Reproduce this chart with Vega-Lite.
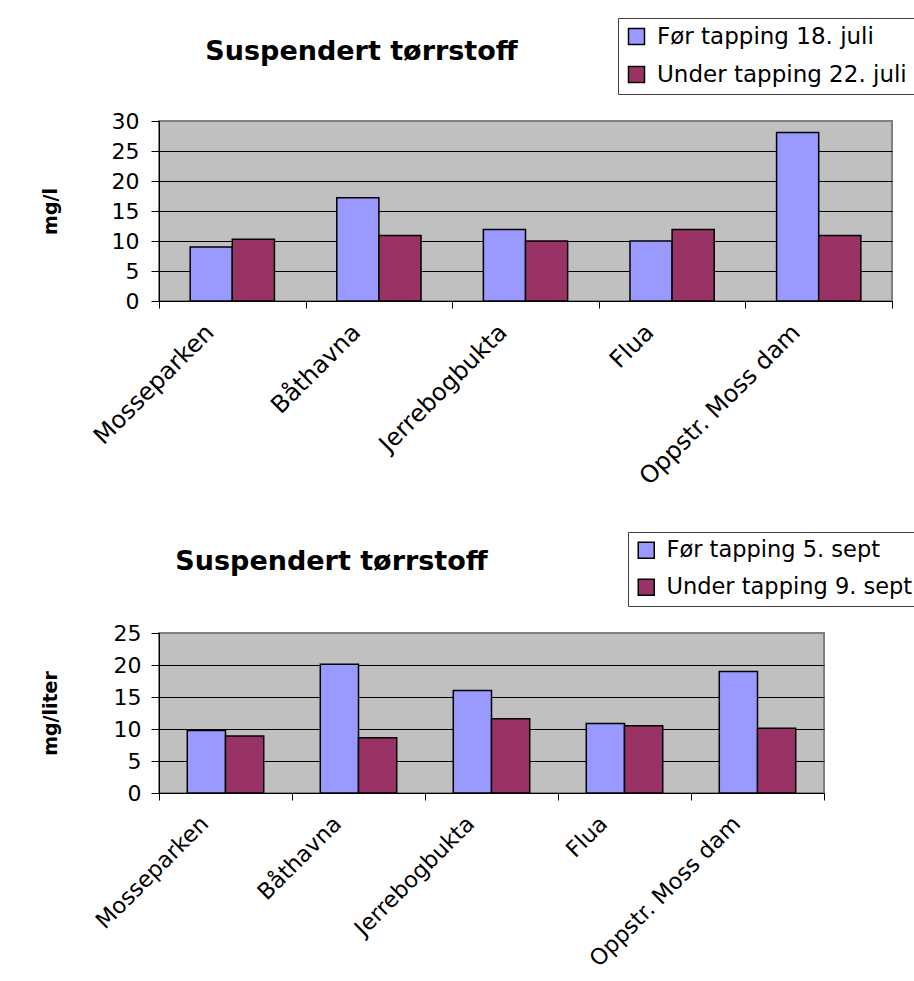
{
  "$schema": "https://vega.github.io/schema/vega-lite/v6.json",
  "background": "white",
  "padding": {"left": 40, "top": 16, "right": 0, "bottom": 0},
  "spacing": 39,
  "config": {
    "font": "DejaVu Sans",
    "view": {"fill": "#C0C0C0", "stroke": "#808080", "strokeWidth": 2},
    "axis": {
      "labelColor": "black",
      "labelFont": "DejaVu Sans",
      "tickColor": "black",
      "tickWidth": 1,
      "tickSize": 8,
      "domainColor": "black",
      "domainWidth": 1,
      "gridWidth": 1,
      "gridOpacity": 1,
      "titleColor": "black",
      "titleFont": "DejaVu Sans",
      "titleFontWeight": "bold",
      "titleFontSize": 19
    },
    "legend": {
      "title": null,
      "labelFont": "DejaVu Sans",
      "labelColor": "black",
      "labelLimit": 500,
      "symbolType": "square",
      "symbolSize": 256,
      "symbolStrokeColor": "black",
      "symbolStrokeWidth": 1.5,
      "labelOffset": 9,
      "rowPadding": 14,
      "padding": 7,
      "strokeColor": "#404040",
      "fillColor": "white",
      "orient": "none"
    },
    "title": {"font": "DejaVu Sans", "fontWeight": "bold", "fontSize": 27, "color": "black"}
  },
  "datasets": {
    "juli": [
      {"site": "Mosseparken", "series": "Før tapping 18. juli", "value": 9.0},
      {"site": "Mosseparken", "series": "Under tapping 22. juli", "value": 10.3},
      {"site": "Båthavna", "series": "Før tapping 18. juli", "value": 17.2},
      {"site": "Båthavna", "series": "Under tapping 22. juli", "value": 10.9},
      {"site": "Jerrebogbukta", "series": "Før tapping 18. juli", "value": 11.9},
      {"site": "Jerrebogbukta", "series": "Under tapping 22. juli", "value": 10.0},
      {"site": "Flua", "series": "Før tapping 18. juli", "value": 10.0},
      {"site": "Flua", "series": "Under tapping 22. juli", "value": 11.9},
      {"site": "Oppstr. Moss dam", "series": "Før tapping 18. juli", "value": 28.1},
      {"site": "Oppstr. Moss dam", "series": "Under tapping 22. juli", "value": 10.9}
    ],
    "sept": [
      {"site": "Mosseparken", "series": "Før tapping 5. sept", "value": 9.75},
      {"site": "Mosseparken", "series": "Under tapping 9. sept", "value": 8.9},
      {"site": "Båthavna", "series": "Før tapping 5. sept", "value": 20.1},
      {"site": "Båthavna", "series": "Under tapping 9. sept", "value": 8.65},
      {"site": "Jerrebogbukta", "series": "Før tapping 5. sept", "value": 16.0},
      {"site": "Jerrebogbukta", "series": "Under tapping 9. sept", "value": 11.6},
      {"site": "Flua", "series": "Før tapping 5. sept", "value": 10.85},
      {"site": "Flua", "series": "Under tapping 9. sept", "value": 10.5},
      {"site": "Oppstr. Moss dam", "series": "Før tapping 5. sept", "value": 19.0},
      {"site": "Oppstr. Moss dam", "series": "Under tapping 9. sept", "value": 10.1}
    ]
  },
  "vconcat": [
    {
      "data": {"name": "juli"},
      "width": 733,
      "height": 180,
      "title": {"text": "Suspendert tørrstoff", "anchor": "middle", "frame": "group", "dx": -164, "dy": 69, "baseline": "alphabetic", "offset": 0},
      "mark": {"type": "bar", "stroke": "black", "strokeWidth": 1.5},
      "encoding": {
        "x": {
          "field": "site", "type": "nominal", "sort": null,
          "scale": {"paddingInner": 0, "paddingOuter": 0},
          "axis": {"title": null, "labelAngle": -45, "labelAlign": "right", "labelBaseline": "top", "labelFontSize": 24, "labelOffset": -31, "labelPadding": 12, "tickBand": "extent", "tickSize": 7, "labelLimit": 400}
        },
        "xOffset": {"field": "series", "sort": null, "scale": {"paddingInner": 0, "paddingOuter": 0.74}},
        "y": {
          "field": "value", "type": "quantitative",
          "scale": {"domain": [0, 30], "nice": false},
          "axis": {
            "title": "mg/l", "values": [0, 5, 10, 15, 20, 25, 30], "labelFontSize": 22, "labelPadding": 12, "titlePadding": 51, "grid": true,
            "gridColor": {"condition": {"test": "datum.value === 30", "value": "#808080"}, "value": "black"}
          }
        },
        "color": {
          "field": "series", "type": "nominal", "sort": null,
          "scale": {"domain": ["Før tapping 18. juli", "Under tapping 22. juli"], "range": ["#9999FF", "#993366"]},
          "legend": {"legendX": 459, "legendY": -103, "labelFontSize": 23}
        }
      }
    },
    {
      "data": {"name": "sept"},
      "width": 665,
      "height": 160,
      "title": {"text": "Suspendert tørrstoff", "anchor": "middle", "frame": "group", "dx": -160, "dy": 65, "baseline": "alphabetic", "offset": 0},
      "mark": {"type": "bar", "stroke": "black", "strokeWidth": 1.5},
      "encoding": {
        "x": {
          "field": "site", "type": "nominal", "sort": null,
          "scale": {"paddingInner": 0, "paddingOuter": 0},
          "axis": {"title": null, "labelAngle": -45, "labelAlign": "right", "labelBaseline": "top", "labelFontSize": 22.5, "labelOffset": -29, "labelPadding": 12, "tickBand": "extent", "tickSize": 7, "labelLimit": 400}
        },
        "xOffset": {"field": "series", "sort": null, "scale": {"paddingInner": 0, "paddingOuter": 0.74}},
        "y": {
          "field": "value", "type": "quantitative",
          "scale": {"domain": [0, 25], "nice": false},
          "axis": {
            "title": "mg/liter", "values": [0, 5, 10, 15, 20, 25], "labelFontSize": 22, "labelPadding": 10, "titlePadding": 53, "grid": true,
            "gridColor": {"condition": {"test": "datum.value === 25", "value": "#808080"}, "value": "black"}
          }
        },
        "color": {
          "field": "series", "type": "nominal", "sort": null,
          "scale": {"domain": ["Før tapping 5. sept", "Under tapping 9. sept"], "range": ["#9999FF", "#993366"]},
          "legend": {"legendX": 469, "legendY": -101, "labelFontSize": 22.5}
        }
      }
    }
  ],
  "resolve": {"scale": {"x": "independent", "xOffset": "independent", "y": "independent", "color": "independent"}}
}
